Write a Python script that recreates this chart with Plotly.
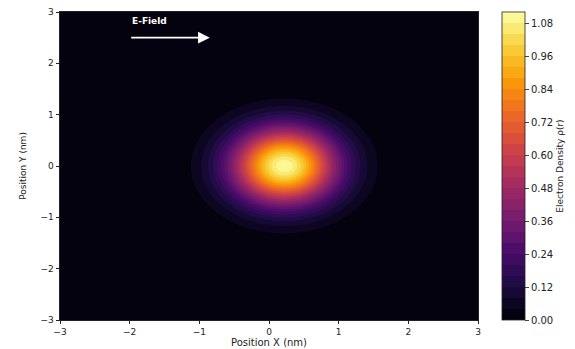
import numpy as np
import plotly.graph_objects as go

# Axis grid (nm)
x_nm = np.linspace(-3, 3, 301)
y_nm = np.linspace(-3, 3, 301)

# Density blob parameters
peak_density = 1.11
center_x = 0.22
center_y = 0.0
sigma_x = 0.52
sigma_y = 0.51

# Contour levels / colorbar ticks
level_start = 0.0
level_end = 1.12
level_step = 0.04
cbar_ticks = [0.00, 0.12, 0.24, 0.36, 0.48, 0.60, 0.72, 0.84, 0.96, 1.08]
axis_ticks = [-3, -2, -1, 0, 1, 2, 3]

X, Y = np.meshgrid(x_nm, y_nm)
density = peak_density * np.exp(-((X - center_x) ** 2) / (2 * sigma_x ** 2)
                                - ((Y - center_y) ** 2) / (2 * sigma_y ** 2))

font = dict(family="DejaVu Sans", size=9, color="#222")

fig = go.Figure()
fig.add_trace(go.Contour(
    x=x_nm, y=y_nm, z=density,
    colorscale="Inferno",
    zmin=level_start, zmax=level_end,
    contours=dict(start=level_start, end=level_end, size=level_step, coloring="fill"),
    line=dict(width=0),
    colorbar=dict(
        x=1.057, xanchor="left", y=0.5, yanchor="middle",
        len=1.0, lenmode="fraction", thickness=23, xpad=0, ypad=0,
        tickvals=cbar_ticks, ticktext=[f"{v:.2f}" for v in cbar_ticks],
        ticks="outside", ticklen=4, tickfont=dict(family="DejaVu Sans", size=10, color="#222"),
        outlinewidth=0.8, outlinecolor="#222",
        title=dict(text="Electron Density ρ(r)", side="right",
                   font=dict(family="DejaVu Sans", size=9, color="#222")),
    ),
))

fig.add_annotation(
    x=-0.85, y=2.5, ax=-2.0, ay=2.5, xref="x", yref="y", axref="x", ayref="y",
    showarrow=True, arrowhead=2, arrowsize=1.3, arrowwidth=1.8, arrowcolor="white", text="",
)
fig.add_annotation(
    x=-2.0, y=2.82, xref="x", yref="y", text="<b>E-Field</b>", showarrow=False,
    xanchor="left", yanchor="middle", font=dict(family="DejaVu Sans", size=9, color="white"),
)

fig.update_xaxes(
    range=[-3, 3], tickvals=axis_ticks, ticktext=["−3", "−2", "−1", "0", "1", "2", "3"],
    ticks="outside", ticklen=3.5, tickcolor="#222", tickfont=font,
    showline=True, linecolor="#222", linewidth=0.8, mirror=True, showgrid=False, zeroline=False,
    automargin=False,
    title=dict(text="Position X (nm)", font=dict(family="DejaVu Sans", size=10, color="#222"), standoff=2),
)
fig.update_yaxes(
    range=[-3, 3], tickvals=axis_ticks, ticktext=["−3", "−2", "−1", "0", "1", "2", "3"],
    ticks="outside", ticklen=3.5, tickcolor="#222", tickfont=font,
    showline=True, linecolor="#222", linewidth=0.8, mirror=True, showgrid=False, zeroline=False,
    automargin=False,
    title=dict(text="Position Y (nm)", font=dict(family="DejaVu Sans", size=9, color="#222"), standoff=12),
)

fig.update_layout(
    width=575, height=349,
    margin=dict(l=60, r=97, t=12, b=29, autoexpand=False),
    paper_bgcolor="white", plot_bgcolor="black",
    showlegend=False,
)

fig.write_html("out.html")
